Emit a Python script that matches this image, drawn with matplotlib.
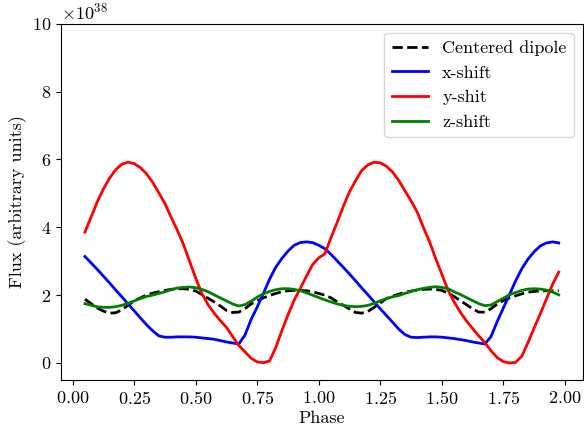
# dependencies
import numpy as np
import matplotlib
matplotlib.use('Agg')
import matplotlib.pyplot as plt

# latex-looking fonts
plt.rcParams['font.family'] = 'cmr10'
plt.rcParams['mathtext.fontset'] = 'cm'
plt.rcParams['axes.formatter.use_mathtext'] = True
plt.rcParams['font.size'] = 13

# rotational phase
phase = [0.050, 0.075, 0.100, 0.125, 0.150, 0.175, 0.200, 0.225, 0.250, 0.275,
         0.300, 0.325, 0.350, 0.375, 0.400, 0.425, 0.450, 0.475, 0.500, 0.525,
         0.550, 0.575, 0.600, 0.625, 0.650, 0.675, 0.700, 0.725, 0.750, 0.775,
         0.800, 0.825, 0.850, 0.875, 0.900, 0.925, 0.950, 0.975, 1.000, 1.025,
         1.050, 1.075, 1.100, 1.125, 1.150, 1.175, 1.200, 1.225, 1.250, 1.275,
         1.300, 1.325, 1.350, 1.375, 1.400, 1.425, 1.450, 1.475, 1.500, 1.525,
         1.550, 1.575, 1.600, 1.625, 1.650, 1.675, 1.700, 1.725, 1.750, 1.775,
         1.800, 1.825, 1.850, 1.875, 1.900, 1.925, 1.950, 1.975]

# flux in units of 1e38
centered = [1.88, 1.75, 1.62, 1.53, 1.47, 1.48, 1.57, 1.70, 1.83, 1.92,
            2.00, 2.06, 2.10, 2.14, 2.17, 2.19, 2.19, 2.17, 2.12, 2.02,
            1.91, 1.80, 1.68, 1.55, 1.49, 1.50, 1.60, 1.74, 1.83, 1.92,
            1.99, 2.05, 2.10, 2.13, 2.14, 2.14, 2.13, 2.10, 2.05, 2.00,
            1.92, 1.80, 1.70, 1.59, 1.49, 1.47, 1.52, 1.64, 1.77, 1.90,
            1.97, 2.03, 2.08, 2.12, 2.15, 2.17, 2.18, 2.17, 2.14, 2.06,
            1.96, 1.84, 1.72, 1.60, 1.50, 1.50, 1.60, 1.74, 1.84, 1.92,
            1.98, 2.04, 2.09, 2.11, 2.12, 2.13, 2.13, 2.13]

x_shift = [3.14, 2.95, 2.76, 2.56, 2.36, 2.15, 1.95, 1.74, 1.54, 1.33,
           1.13, 0.95, 0.80, 0.76, 0.76, 0.77, 0.77, 0.77, 0.76, 0.74,
           0.72, 0.70, 0.66, 0.62, 0.59, 0.56, 0.82, 1.28, 1.65, 2.05,
           2.47, 2.82, 3.08, 3.30, 3.47, 3.55, 3.57, 3.55, 3.47, 3.37,
           3.20, 3.01, 2.82, 2.62, 2.42, 2.21, 2.01, 1.80, 1.60, 1.40,
           1.20, 1.00, 0.84, 0.76, 0.75, 0.76, 0.77, 0.77, 0.76, 0.74,
           0.72, 0.69, 0.66, 0.62, 0.59, 0.56, 0.78, 1.22, 1.62, 2.02,
           2.42, 2.78, 3.06, 3.28, 3.45, 3.54, 3.57, 3.54]

y_shift = [3.86, 4.30, 4.75, 5.13, 5.45, 5.70, 5.86, 5.92, 5.88, 5.76,
           5.58, 5.33, 5.02, 4.70, 4.30, 3.92, 3.50, 3.00, 2.50, 2.05,
           1.72, 1.47, 1.25, 1.05, 0.78, 0.52, 0.33, 0.14, 0.03, 0.01,
           0.06, 0.45, 0.95, 1.42, 1.85, 2.20, 2.56, 2.90, 3.10, 3.22,
           3.70, 4.15, 4.62, 5.05, 5.38, 5.68, 5.84, 5.92, 5.90, 5.80,
           5.63, 5.38, 5.08, 4.78, 4.45, 4.00, 3.58, 3.08, 2.62, 2.15,
           1.80, 1.50, 1.24, 1.02, 0.80, 0.60, 0.36, 0.16, 0.04, 0.00,
           0.02, 0.20, 0.60, 1.03, 1.45, 1.88, 2.32, 2.68]

z_shift = [1.75, 1.70, 1.66, 1.64, 1.64, 1.66, 1.70, 1.76, 1.83, 1.90,
           1.96, 2.00, 2.05, 2.10, 2.16, 2.21, 2.23, 2.24, 2.22, 2.17,
           2.10, 2.01, 1.92, 1.83, 1.74, 1.68, 1.72, 1.82, 1.94, 2.04,
           2.11, 2.16, 2.19, 2.19, 2.17, 2.13, 2.07, 2.00, 1.93, 1.86,
           1.80, 1.74, 1.70, 1.67, 1.66, 1.67, 1.70, 1.76, 1.83, 1.90,
           1.95, 1.99, 2.05, 2.11, 2.16, 2.20, 2.23, 2.25, 2.23, 2.19,
           2.10, 2.02, 1.93, 1.84, 1.75, 1.69, 1.71, 1.81, 1.91, 2.01,
           2.08, 2.14, 2.18, 2.19, 2.18, 2.15, 2.09, 2.01]

scale = 1e38

fig = plt.figure(figsize=(5.84, 4.25), dpi=100)
ax = fig.add_axes([0.105, 0.106, 0.893, 0.838])

ax.plot(phase, np.array(centered) * scale, 'k--', lw=2, label='Centered dipole')
ax.plot(phase, np.array(x_shift) * scale, color='blue', lw=2, label='x-shift')
ax.plot(phase, np.array(y_shift) * scale, color='red', lw=2, label='y-shit')
ax.plot(phase, np.array(z_shift) * scale, color='green', lw=2, label='z-shift')

ax.set_xlim(-0.046, 2.073)
ax.set_ylim(-0.5e38, 10e38)
ax.set_xticks([0, 0.25, 0.5, 0.75, 1.0, 1.25, 1.5, 1.75, 2.0])
ax.set_yticks([0, 2e38, 4e38, 6e38, 8e38, 10e38])
ax.ticklabel_format(axis='y', style='sci', scilimits=(38, 38))
ax.set_xlabel('Phase', labelpad=3)
ax.set_ylabel('Flux (arbitrary units)')
ax.legend(loc='upper right')

fig.savefig('out.png', dpi=100)
